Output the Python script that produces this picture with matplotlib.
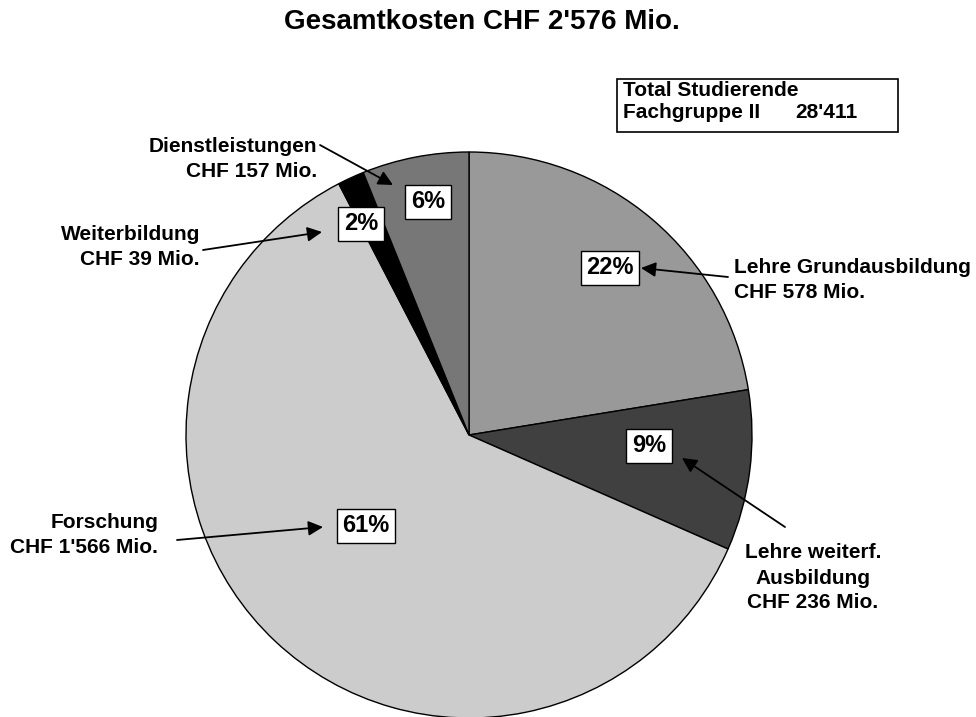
import matplotlib
matplotlib.use("Agg")
import matplotlib.pyplot as plt

# Daten
kategorien = ["Lehre Grundausbildung", "Lehre weiterf.\nAusbildung", "Forschung",
              "Weiterbildung", "Dienstleistungen"]
kosten = [578, 236, 1566, 39, 157]  # CHF Mio.
farben = ["#999999", "#404040", "#cccccc", "#000000", "#777777"]
titel = "Gesamtkosten CHF 2'576 Mio."
studierende = "28'411"

H = 717


def Y(y):
    # Bildkoordinate (von oben) -> Achsenkoordinate (von unten)
    return H - y


plt.rcParams["font.family"] = ["Liberation Sans", "DejaVu Sans"]
plt.rcParams["font.weight"] = "bold"

fig = plt.figure(figsize=(9.76, 7.17), dpi=100)
ax = fig.add_axes([0, 0, 1, 1])

ax.pie(kosten, colors=farben, startangle=90, counterclock=False,
       center=(469, Y(435)), radius=283, frame=True,
       wedgeprops=dict(edgecolor="black", linewidth=1.0))
ax.set_xlim(0, 976)
ax.set_ylim(0, H)
ax.set_aspect("equal")
ax.axis("off")

total = sum(kosten)
prozent = [f"{round(100 * k / total):.0f}%" for k in kosten]

# Positionen: (Prozentbox, Pfeilstart, Pfeilspitze, Labeltext-Pos, Ausrichtung)
layout = [
    ((610, 268), (728, 277), (641, 268), (734, 280), "left"),
    ((649, 446), (785, 527), (682, 458), (813, 578), "center"),
    ((366, 526), (177, 540), (323, 527), (158, 535), "right"),
    ((361, 224), (203, 250), (322, 232), (200, 247), "right"),
    ((428, 202), (320, 145), (393, 185), (317, 159), "right"),
]

for i, (pbox, p0, p1, lpos, ha) in enumerate(layout):
    ax.text(pbox[0], Y(pbox[1]), prozent[i], fontsize=17, fontweight="bold",
            ha="center", va="center",
            bbox=dict(boxstyle="square,pad=0.24", fc="white", ec="black", lw=1))
    ax.annotate("", xy=(p1[0], Y(p1[1])), xytext=(p0[0], Y(p0[1])),
                arrowprops=dict(arrowstyle="-|>", color="black", lw=1.3,
                                mutation_scale=22, shrinkA=0, shrinkB=0))
    ax.text(lpos[0], Y(lpos[1]), f"{kategorien[i]}\nCHF {kosten[i]:,} Mio.".replace(",", "'"),
            fontsize=15, fontweight="bold", ha=ha, va="center",
            multialignment=ha, linespacing=1.4)

ax.text(482, Y(22), titel, fontsize=20, fontweight="bold", ha="center", va="center")

ax.add_patch(plt.Rectangle((617, Y(132)), 281, 53, fc="white", ec="black", lw=1.2))
ax.text(623, Y(91), "Total Studierende", fontsize=15, fontweight="bold", va="center")
ax.text(623, Y(112), "Fachgruppe II", fontsize=15, fontweight="bold", va="center")
ax.text(795, Y(112), studierende, fontsize=15, fontweight="bold", va="center")

fig.savefig("out.png", dpi=100)
